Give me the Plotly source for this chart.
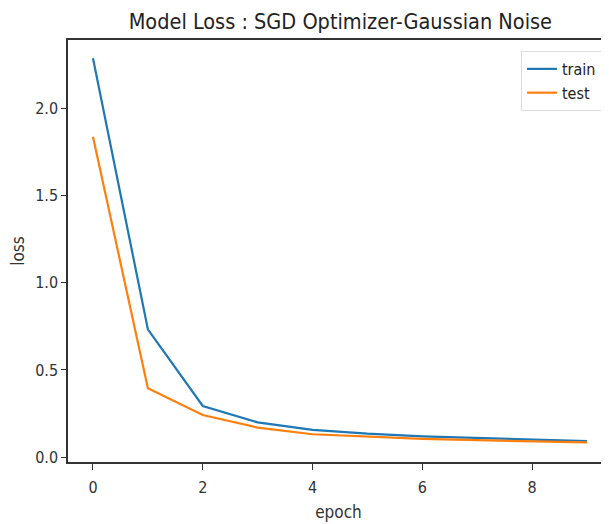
import plotly.graph_objects as go

epochs = [0, 1, 2, 3, 4, 5, 6, 7, 8, 9]
train_loss = [2.285, 0.733, 0.294, 0.200, 0.157, 0.135, 0.120, 0.110, 0.100, 0.092]
test_loss = [1.836, 0.395, 0.242, 0.170, 0.132, 0.117, 0.106, 0.098, 0.090, 0.085]
x_ticks = [0, 2, 4, 6, 8]
y_ticks = [0.0, 0.5, 1.0, 1.5, 2.0]

FONT = "DejaVu Sans Condensed, DejaVu Sans, sans-serif"

fig = go.Figure()
fig.add_trace(go.Scatter(x=epochs, y=train_loss, mode="lines", name="train",
                         line=dict(color="#1f77b4", width=2.2)))
fig.add_trace(go.Scatter(x=epochs, y=test_loss, mode="lines", name="test",
                         line=dict(color="#ff7f0e", width=2.2)))

fig.update_layout(
    width=601, height=516,
    margin=dict(l=60, r=0, t=32, b=62),
    paper_bgcolor="white", plot_bgcolor="white",
    font=dict(family=FONT, color="#333333", size=16),
    title=dict(text="Model Loss : SGD Optimizer-Gaussian Noise",
               x=0.553, xanchor="center", y=0.974, yanchor="middle",
               font=dict(size=21.5, color="#222222")),
    showlegend=True,
    legend=dict(x=0.987, y=0.974, xanchor="right", yanchor="top",
                bgcolor="white", bordercolor="#dddddd", borderwidth=1,
                font=dict(size=16, color="#222222"), tracegroupgap=2),
    xaxis=dict(range=[-0.455, 9.40], tickvals=x_ticks,
               ticktext=[str(v) for v in x_ticks],
               showgrid=False, zeroline=False, showline=True, mirror=True,
               linecolor="#333333", linewidth=1.5, ticks="outside", ticklen=6,
               tickcolor="#333333", tickfont=dict(size=16), ticklabelstandoff=4,
               title=dict(text="epoch", font=dict(size=17), standoff=10)),
    yaxis=dict(range=[-0.027, 2.39], tickvals=y_ticks,
               ticktext=["%.1f" % v for v in y_ticks],
               showgrid=False, zeroline=False, showline=True, mirror=False,
               linecolor="#333333", linewidth=1.5, ticks="outside", ticklen=5,
               tickcolor="#333333", tickfont=dict(size=16),
               title=dict(text="loss", font=dict(size=17), standoff=10)),
)

fig.write_html("out.html")
